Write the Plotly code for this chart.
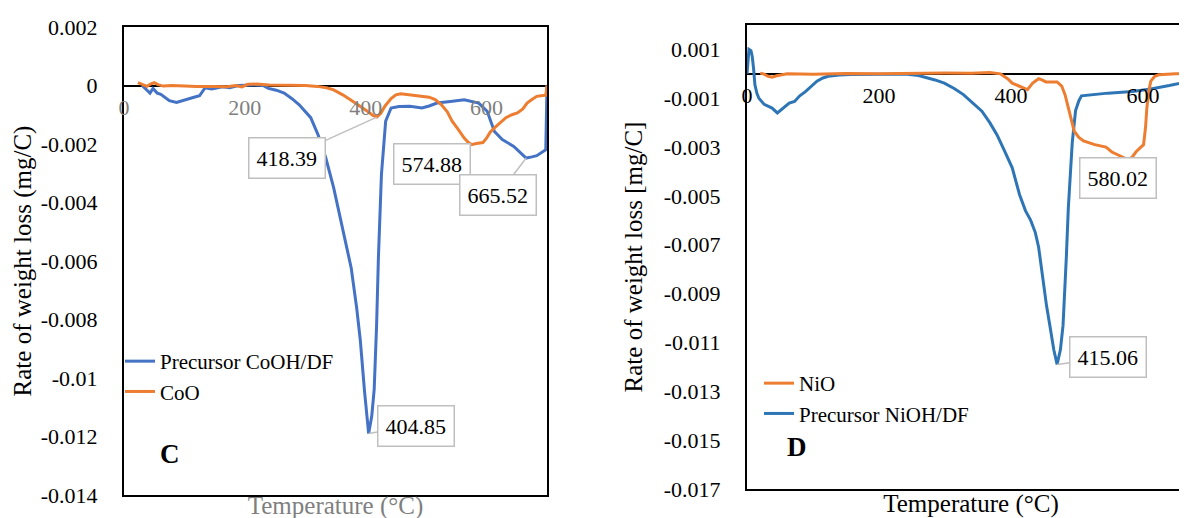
import plotly.graph_objects as go

# ---------------- data ----------------
# Panel C
co_pre_x = [30, 43, 48, 55, 61, 68, 75, 87, 99, 106, 113, 125, 134, 145, 151, 163, 175, 189, 213, 230,
            239, 252, 265, 278, 290, 300, 309, 321, 334, 347, 359, 372, 376, 385, 391, 398, 404.85,
            410, 414, 418, 421, 426, 433, 442, 455, 473, 493, 505, 518, 540, 563, 587, 601, 613,
            626, 645, 656, 665.52, 675, 683, 698, 700]
co_pre_y = [0.0, -0.00026, -0.0001, -0.00026, -0.0003, -0.00042, -0.00052, -0.00058, -0.0005, -0.00045,
            -0.00042, -0.00035, -0.00008, -0.00012, -0.0001, -0.00004, -0.00008, 0.0, 0.00002, 0.0,
            -0.0001, -0.00016, -0.00026, -0.00045, -0.00066, -0.0009, -0.0011, -0.00168, -0.00248,
            -0.0035, -0.00464, -0.0058, -0.00624, -0.0076, -0.0087, -0.01045, -0.0119,
            -0.0113, -0.0104, -0.0082, -0.0059, -0.00305, -0.00122, -0.00077, -0.00072, -0.00071,
            -0.00077, -0.0007, -0.0006, -0.00055, -0.00049, -0.0006, -0.00088, -0.00157,
            -0.00185, -0.00208, -0.0023, -0.00248, -0.00244, -0.0024, -0.0022, 0.0]
coo_x = [23, 30, 38, 44, 50, 56, 65, 80, 100, 120, 150, 170, 185, 195, 205, 220, 240, 260, 280, 300,
         320, 335, 347, 362, 379, 392, 404, 412, 418.39, 425, 432, 442, 450, 458, 467, 480, 495, 505,
         515, 525, 535, 543, 553, 563, 570, 574.88, 583, 594, 600, 606, 613, 622, 632, 642, 651,
         660, 667, 675, 683, 690, 698, 700]
coo_y = [0.0001, 0.00003, -0.00003, 0.00005, 0.0001, 0.00003, -0.00002, 0.0, -0.00002, -0.00003,
         -0.00003, -0.00004, 0.0, -0.00005, 0.00004, 0.00005, 0.00002, 0.00002, 0.00001, 0.0,
         -0.00003, -0.00008, -0.00015, -0.00032, -0.00055, -0.00072, -0.0009, -0.00102, -0.00108,
         -0.00095, -0.0007, -0.00045, -0.00032, -0.00028, -0.0003, -0.00035, -0.00038, -0.0004,
         -0.00048, -0.00065, -0.0009, -0.00122, -0.0015, -0.0018, -0.00195, -0.00202, -0.00198,
         -0.00195, -0.0018, -0.0016, -0.00145, -0.00128, -0.0011, -0.001, -0.00094,
         -0.0008, -0.0006, -0.00048, -0.00037, -0.00035, -0.00033, 0.0]

# Panel D
nio_x = [20, 25, 32, 38, 45, 55, 61, 100, 150, 200, 250, 300, 340, 368, 384, 395, 402, 415, 425, 433,
         442, 447, 453, 470, 477, 482, 489, 496, 503, 510, 527, 544, 553, 561, 570, 578, 584, 590,
         601, 604, 606, 609, 612, 618, 624, 650, 679]
nio_y = [0.00003, 0.0, -0.0001, -0.00014, -0.00008, -0.00003, 0.0, -0.00002, 0.00001, 0.0, 0.00002,
         0.00003, 0.00002, 0.00005, 0.0, -0.0002, -0.00038, -0.00055, -0.00065, -0.00038,
         -0.0002, -0.00025, -0.00033, -0.00033, -0.0005, -0.00085, -0.0016, -0.00235, -0.0026,
         -0.00275, -0.0029, -0.003, -0.0032, -0.0033, -0.0034, -0.00352, -0.0034, -0.00318,
         -0.0029, -0.0022, -0.0014, -0.0007, -0.0003, -0.0001, -0.00004, 0.0, 0.00001]
ni_pre_x = [0, 1.5, 3, 6, 8, 10, 12, 15, 18, 26, 38, 46, 55, 64, 72, 80, 89, 98, 106, 115, 123, 140,
            157, 200, 243, 260, 271, 285, 299, 314, 328, 342, 356, 368, 379, 391, 402, 413, 422,
            430, 437, 442, 448, 454, 459, 465, 470, 475, 479, 482, 484, 487, 490, 493, 498, 503,
            507, 527, 547, 584, 612, 640, 652, 665, 679]
ni_pre_y = [0.0, 0.0007, 0.001, 0.00095, 0.0007, 0.0002, -0.00045, -0.0008, -0.001, -0.00125, -0.0014,
            -0.0016, -0.0014, -0.0012, -0.00113, -0.0009, -0.00072, -0.0005, -0.0003, -0.00017,
            -0.0001, -0.00005, -0.00003, -0.00002, -0.00002, -0.00007, -0.00014, -0.00025, -0.00038,
            -0.0006, -0.00085, -0.0012, -0.00153, -0.002, -0.0025, -0.0032, -0.00385, -0.00494,
            -0.0056, -0.006, -0.0065, -0.0071, -0.0084, -0.0095, -0.0103, -0.0113, -0.0119, -0.0113,
            -0.0103, -0.0088, -0.0075, -0.0055, -0.004, -0.0028, -0.0015, -0.0011, -0.0009,
            -0.00083, -0.00079, -0.00072, -0.00062, -0.00048, -0.00042, -0.00035, -0.00026]

# callouts
c_peak_x = [418.39, 574.88, 665.52, 404.85]
c_peak_y = [-0.00108, -0.00202, -0.00248, -0.0119]
c_peak_label = ["418.39", "574.88", "665.52", "404.85"]
d_peak_x = [578, 470]
d_peak_y = [-0.00352, -0.0119]
d_peak_label = ["580.02", "415.06"]

# ticks
c_xticks = [0, 200, 400, 600]
c_yticks = [0.002, 0, -0.002, -0.004, -0.006, -0.008, -0.01, -0.012, -0.014]
c_yticktext = ["0.002", "0", "-0.002", "-0.004", "-0.006", "-0.008", "-0.01", "-0.012", "-0.014"]
d_xticks = [0, 200, 400, 600]
d_yticks = [0.001, -0.001, -0.003, -0.005, -0.007, -0.009, -0.011, -0.013, -0.015, -0.017]
d_yticktext = ["0.001", "-0.001", "-0.003", "-0.005", "-0.007", "-0.009", "-0.011", "-0.013",
               "-0.015", "-0.017"]

# ---------------- layout helpers ----------------
W, H = 1187, 518
ML, MR, MT, MB = 116, 0, 17, 31
PW, PH = W - ML - MR, H - MT - MB


def fx(p):
    return (p - ML) / PW


def fy(p):
    return (H - MB - p) / PH


FONT = "Liberation Serif"
BLUE_C = "#4472C4"
ORANGE = "#ED7D31"
BLUE_D = "#2E75B6"
GRAY = "#7F7F7F"

c_xr = [0, 700]
c_yr = [-0.014, 0.002]
d_xr = [0, 679]
d_yr = [-0.017, 0.002]

c_xdom = [fx(116), fx(539)]
c_ydom = [fy(487), fy(19)]
d_xdom = [fx(739), 1.0]
d_ydom = [fy(481), fy(17)]


def zero_pos(dom, rng):
    return dom[0] + (0 - rng[0]) / (rng[1] - rng[0]) * (dom[1] - dom[0])


fig = go.Figure()

fig.add_trace(go.Scatter(x=co_pre_x, y=co_pre_y, mode="lines", name="Precursor CoOH/DF",
                         line=dict(color=BLUE_C, width=3), xaxis="x", yaxis="y",
                         legend="legend", legendgroup="a"))
fig.add_trace(go.Scatter(x=coo_x, y=coo_y, mode="lines", name="CoO",
                         line=dict(color=ORANGE, width=3), xaxis="x", yaxis="y",
                         legend="legend", legendgroup="b"))
fig.add_trace(go.Scatter(x=ni_pre_x, y=ni_pre_y, mode="lines", name="Precursor NiOH/DF",
                         line=dict(color=BLUE_D, width=3), xaxis="x2", yaxis="y2",
                         legend="legend2", legendgroup="d", legendrank=2))
fig.add_trace(go.Scatter(x=nio_x, y=nio_y, mode="lines", name="NiO",
                         line=dict(color=ORANGE, width=3), xaxis="x2", yaxis="y2",
                         legend="legend2", legendgroup="c", legendrank=1))
# carriers for the tick-label axes that sit on the zero lines
fig.add_trace(go.Scatter(x=[None], y=[None], xaxis="x3", yaxis="y", showlegend=False,
                         hoverinfo="skip"))
fig.add_trace(go.Scatter(x=[None], y=[None], xaxis="x4", yaxis="y2", showlegend=False,
                         hoverinfo="skip"))

axis_common = dict(showgrid=False, ticks="", linecolor="black", linewidth=2)

fig.update_layout(
    width=W, height=H,
    margin=dict(l=ML, r=MR, t=MT, b=MB),
    paper_bgcolor="white", plot_bgcolor="white",
    font=dict(family=FONT, size=22, color="black"),
    xaxis=dict(domain=c_xdom, range=c_xr, anchor="y", showline=True, mirror=True,
               zeroline=False, showticklabels=False,
               title=dict(text="Temperature (°C)", font=dict(family=FONT, size=25, color=GRAY),
                          standoff=0),
               **axis_common),
    yaxis=dict(domain=c_ydom, range=c_yr, anchor="x", showline=True, mirror=True,
               zeroline=True, zerolinecolor="black", zerolinewidth=1.5,
               tickvals=c_yticks, ticktext=c_yticktext,
               tickfont=dict(family=FONT, size=22, color="black"),
               ticklabelstandoff=20,
               title=dict(text="Rate of weight loss (mg/C)", font=dict(family=FONT, size=25),
                          standoff=2),
               **axis_common),
    xaxis3=dict(overlaying="x", anchor="free", position=zero_pos(c_ydom, c_yr), range=c_xr,
                showline=False, zeroline=False, tickvals=c_xticks,
                tickfont=dict(family=FONT, size=22, color=GRAY), ticklabelstandoff=6,
                side="bottom", showgrid=False, ticks=""),
    xaxis2=dict(domain=d_xdom, range=d_xr, anchor="y2", showline=True, mirror=True,
                zeroline=False, showticklabels=False,
                title=dict(text="Temperature (°C)", font=dict(family=FONT, size=25, color="black"),
                           standoff=4),
                **axis_common),
    yaxis2=dict(domain=d_ydom, range=d_yr, anchor="x2", showline=True, mirror=False,
                zeroline=True, zerolinecolor="black", zerolinewidth=1.5,
                tickvals=d_yticks, ticktext=d_yticktext,
                tickfont=dict(family=FONT, size=22, color="black"),
                ticklabelstandoff=20,
                title=dict(text="Rate of weight loss [mg/C]", font=dict(family=FONT, size=25),
                           standoff=14),
                **axis_common),
    xaxis4=dict(overlaying="x2", anchor="free", position=zero_pos(d_ydom, d_yr), range=d_xr,
                showline=False, zeroline=False, tickvals=d_xticks,
                tickfont=dict(family=FONT, size=22, color="black"), ticklabelstandoff=6,
                side="bottom", showgrid=False, ticks=""),
    legend=dict(x=fx(112), y=fy(333), xanchor="left", yanchor="top", bgcolor="rgba(0,0,0,0)",
                font=dict(family=FONT, size=21), tracegroupgap=6, traceorder="normal"),
    legend2=dict(x=fx(751), y=fy(355), xanchor="left", yanchor="top", bgcolor="rgba(0,0,0,0)",
                 font=dict(family=FONT, size=21), tracegroupgap=4, traceorder="normal"),
    showlegend=True,
)

# callouts (offsets of the label boxes from the pointed-at points, in pixels)
c_offsets = [(-90, 41), (-39, 19), (-28, 37), (47, -8)]
for x, y, t, (ax, ay) in zip(c_peak_x, c_peak_y, c_peak_label, c_offsets):
    fig.add_annotation(x=x, y=y, xref="x", yref="y", text=t, showarrow=True, ax=ax, ay=ay,
                       arrowhead=0, arrowwidth=1.5, arrowcolor="#BFBFBF", standoff=0,
                       bgcolor="white", bordercolor="#BFBFBF", borderwidth=1.5, borderpad=7,
                       font=dict(family=FONT, size=22, color="black"))
d_offsets = [(-10, 18), (51, -7)]
for x, y, t, (ax, ay) in zip(d_peak_x, d_peak_y, d_peak_label, d_offsets):
    fig.add_annotation(x=x, y=y, xref="x2", yref="y2", text=t, showarrow=True, ax=ax, ay=ay,
                       arrowhead=0, arrowwidth=1.5, arrowcolor="#BFBFBF", standoff=0,
                       bgcolor="white", bordercolor="#BFBFBF", borderwidth=1.5, borderpad=7,
                       font=dict(family=FONT, size=22, color="black"))

# panel letters
fig.add_annotation(text="<b>C</b>", xref="x domain", yref="y domain", x=0.08, y=0.051,
                   showarrow=False, font=dict(family=FONT, size=27, color="black"))
fig.add_annotation(text="<b>D</b>", xref="x2 domain", yref="y2 domain", x=0.085, y=0.054,
                   showarrow=False, font=dict(family=FONT, size=27, color="black"))

fig.write_html("out.html")
